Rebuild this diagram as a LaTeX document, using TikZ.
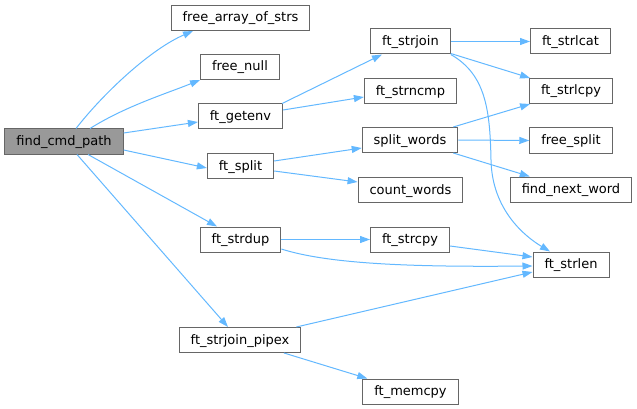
\documentclass[tikz,border=0pt]{standalone}
\usepackage{fontspec}
\setmainfont{DejaVu Sans}
\definecolor{callblue}{RGB}{99,184,255}
\definecolor{boxgray}{RGB}{102,102,102}
\definecolor{rootgray}{RGB}{153,153,153}
\usetikzlibrary{arrows.meta}
\tikzset{
	fnbox/.style={draw=boxgray,line width=1pt,fill=white,inner xsep=11.5pt,inner ysep=0pt,minimum height=25pt,text height=10.5pt,text depth=2.5pt,font=\fontsize{13pt}{15pt}\selectfont},
	rootbox/.style={fnbox,fill=rootgray},
	call/.style={draw=callblue,line width=1pt,-{Triangle[length=10pt,width=7pt]}}
}

\begin{document}
\begin{tikzpicture}[x=1pt,y=-1pt]
	\useasboundingbox (0,0) rectangle (637,409);
	\node[rootbox] (find) at (64,141.5) {find\_cmd\_path};
	\node[fnbox] (arrstrs) at (240.5,18) {free\_array\_of\_strs};
	\node[fnbox] (freenull) at (240,67) {free\_null};
	\node[fnbox] (getenv) at (240.5,116.5) {ft\_getenv};
	\node[fnbox] (split) at (240.5,166) {ft\_split};
	\node[fnbox] (strdup) at (240.5,239.5) {ft\_strdup};
	\node[fnbox] (pipex) at (240,340) {ft\_strjoin\_pipex};
	\node[fnbox] (strjoin) at (410.5,41.5) {ft\_strjoin};
	\node[fnbox] (strncmp) at (410.5,91.5) {ft\_strncmp};
	\node[fnbox] (splitw) at (410,140) {split\_words};
	\node[fnbox] (countw) at (410.5,190) {count\_words};
	\node[fnbox] (strcpy) at (410,239.5) {ft\_strcpy};
	\node[fnbox] (memcpy) at (410.5,391.5) {ft\_memcpy};
	\node[fnbox] (strlcat) at (570.5,41.5) {ft\_strlcat};
	\node[fnbox] (strlcpy) at (571,91) {ft\_strlcpy};
	\node[fnbox] (freesplit) at (571,140.5) {free\_split};
	\node[fnbox] (nextword) at (571,189.5) {find\_next\_word};
	\node[fnbox] (strlen) at (571,264.5) {ft\_strlen};

	\draw[call] ([xshift=12pt]find.north) .. controls +(28,-36) and +(-42,18) .. ([xshift=-47.5pt]arrstrs.south);
	\draw[call] ([xshift=26pt]find.north) .. controls +(35,-22) and +(-35,14) .. (freenull.south west);
	\draw[call] ([yshift=8.5pt]find.east) -- ([yshift=-5.5pt]getenv.west);
	\draw[call] ([yshift=-8.5pt]find.east) -- ([yshift=-2pt]split.west);
	\draw[call] ([xshift=24pt]find.south) -- ([xshift=-23.5pt]strdup.north);
	\draw[call] ([xshift=13pt]find.south) -- ([xshift=-12pt]pipex.north);
	\draw[call] ([xshift=-1pt]getenv.north east) -- ([xshift=-28.5pt]strjoin.south);
	\draw[call] ([yshift=6.5pt]getenv.east) -- ([yshift=-5.5pt]strncmp.west);
	\draw[call] ([yshift=5pt]split.east) -- ([yshift=-8pt]splitw.west);
	\draw[call] ([yshift=-5pt]split.east) -- ([yshift=8pt]countw.west);
	\draw[call] (strjoin.east) -- (strlcat.west);
	\draw[call] ([yshift=1pt]strjoin.south east) -- ([xshift=1pt]strlcpy.north west);
	\draw[call] (strjoin.south east) .. controls +(35,20) and +(-1,-50) .. (491,160) .. controls +(1,50) and +(-25,-15) .. ([xshift=-21pt]strlen.north);
	\draw[call] ([xshift=-5pt]splitw.north east) -- ([xshift=1pt]strlcpy.south west);
	\draw[call] (splitw.east) -- (freesplit.west);
	\draw[call] ([xshift=-5pt]splitw.south east) -- ([xshift=20pt]nextword.north west);
	\draw[call] (strdup.east) -- (strcpy.west);
	\draw[call] ([yshift=-9.5pt]strdup.east) .. controls +(50,16) and +(-110,1) .. ([yshift=-1.5pt]strlen.west);
	\draw[call] ([yshift=-6.5pt]strcpy.east) -- ([yshift=7.5pt]strlen.west);
	\draw[call] ([xshift=-5pt]pipex.north east) -- ([yshift=-7.5pt]strlen.west);
	\draw[call] ([xshift=44pt]pipex.south) -- ([xshift=5pt]memcpy.north west);
\end{tikzpicture}
\end{document}
